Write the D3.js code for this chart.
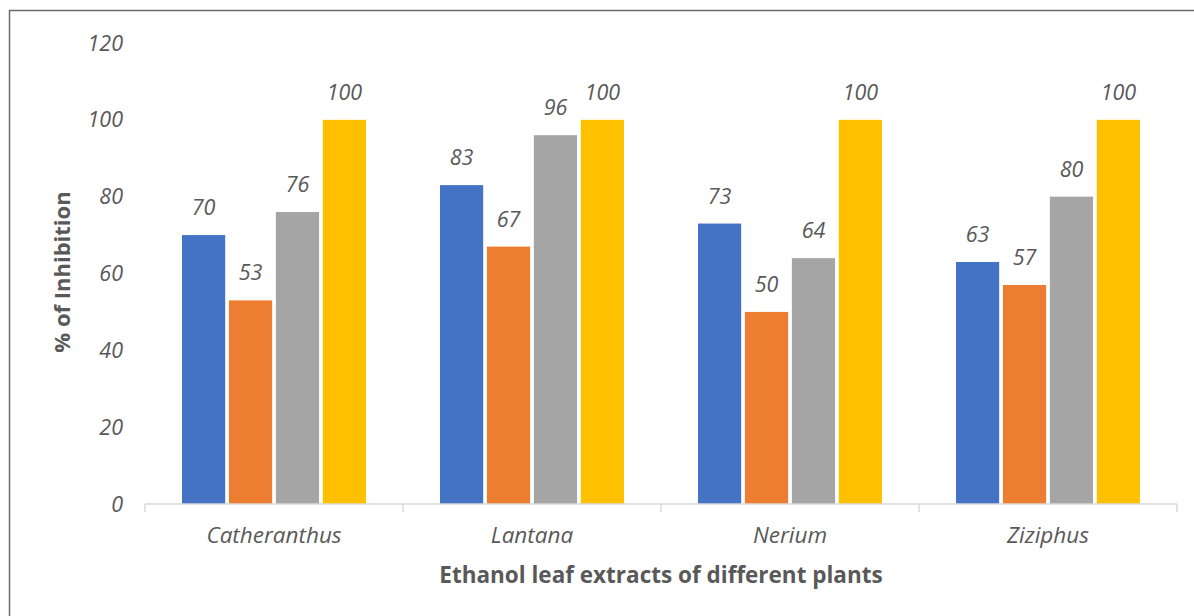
<!DOCTYPE html>
<html>
<head>
<meta charset="utf-8">
<script src="https://cdn.jsdelivr.net/npm/d3@7"></script>
<style>
  body { margin: 0; background: #fff; }
  text { font-family: "Open Sans", sans-serif; fill: #595959; }
</style>
</head>
<body>
<div id="chart"></div>
<script>
// data
const plants = ["Catheranthus", "Lantana", "Nerium", "Ziziphus"];
const seriesNames = ["Series 1", "Series 2", "Series 3", "Series 4"];
const series1 = [70, 83, 73, 63];
const series2 = [53, 67, 50, 57];
const series3 = [76, 96, 64, 80];
const series4 = [100, 100, 100, 100];
const yTicks = [0, 20, 40, 60, 80, 100, 120];
const colors = ["#4472C4", "#ED7D31", "#A5A5A5", "#FFC000"];

const W = 1194, H = 616;
const margin = { top: 43, right: 17, bottom: 112, left: 145 };
const plotW = W - margin.left - margin.right;
const plotH = H - margin.top - margin.bottom;

const svg = d3.select("#chart").append("svg")
    .attr("width", W)
    .attr("height", H);

// outer frame (right and bottom edges are cut off)
svg.append("rect")
    .attr("x", 9.5).attr("y", 10.5)
    .attr("width", W).attr("height", H)
    .attr("fill", "none")
    .attr("stroke", "#6b6b6b")
    .attr("stroke-width", 1.5);

const g = svg.append("g")
    .attr("transform", `translate(${margin.left},${margin.top})`);

const allSeries = [series1, series2, series3, series4];
const rows = plants.map((p, i) => ({
    plant: p,
    values: seriesNames.map((s, j) => ({ key: s, idx: j, value: allSeries[j][i] }))
}));

const x0 = d3.scaleBand().domain(plants).range([0, plotW]).padding(0);
const gap = 37;
const x1 = d3.scaleBand().domain(seriesNames)
    .range([gap, x0.bandwidth() - gap])
    .paddingInner(0.08);
const y = d3.scaleLinear().domain([0, 120]).range([plotH, 0]);

// y tick labels
g.selectAll(".ytick")
    .data(yTicks)
    .enter().append("text")
    .attr("class", "ytick")
    .attr("x", -22)
    .attr("y", d => y(d))
    .attr("dy", "0.35em")
    .attr("text-anchor", "end")
    .style("font-size", "21.5px")
    .style("font-style", "italic")
    .text(d => d);

// bars
const groups = g.selectAll(".grp")
    .data(rows)
    .enter().append("g")
    .attr("class", "grp")
    .attr("transform", d => `translate(${x0(d.plant)},0)`);

groups.selectAll("rect")
    .data(d => d.values)
    .enter().append("rect")
    .attr("x", d => x1(d.key))
    .attr("y", d => y(d.value))
    .attr("width", x1.bandwidth())
    .attr("height", d => plotH - y(d.value))
    .attr("fill", d => colors[d.idx]);

groups.selectAll(".lbl")
    .data(d => d.values)
    .enter().append("text")
    .attr("class", "lbl")
    .attr("x", d => x1(d.key) + x1.bandwidth() / 2)
    .attr("y", d => y(d.value) - 20)
    .attr("text-anchor", "middle")
    .style("font-size", "21.5px")
    .style("font-style", "italic")
    .text(d => d.value);

// x axis
const xAxis = g.append("g")
    .attr("transform", `translate(0,${plotH})`);
xAxis.append("line")
    .attr("x1", 0).attr("x2", plotW)
    .attr("stroke", "#d9d9d9").attr("stroke-width", 1.5);
xAxis.selectAll(".tk")
    .data(d3.range(plants.length + 1))
    .enter().append("line")
    .attr("x1", i => i * x0.step()).attr("x2", i => i * x0.step())
    .attr("y1", 0).attr("y2", 8)
    .attr("stroke", "#d9d9d9").attr("stroke-width", 1.5);
xAxis.selectAll(".xl")
    .data(plants)
    .enter().append("text")
    .attr("x", d => x0(d) + x0.bandwidth() / 2)
    .attr("y", 39)
    .attr("text-anchor", "middle")
    .style("font-size", "22.5px")
    .style("font-style", "italic")
    .text(d => d);

// axis titles
svg.append("text")
    .attr("x", margin.left + plotW / 2)
    .attr("y", 583)
    .attr("text-anchor", "middle")
    .style("font-size", "22.5px")
    .style("font-weight", "bold")
    .text("Ethanol leaf extracts of different plants");

svg.append("text")
    .attr("transform", "translate(70,272) rotate(-90)")
    .attr("text-anchor", "middle")
    .style("font-size", "22px")
    .style("font-weight", "bold")
    .text("% of Inhibition");
</script>
</body>
</html>
